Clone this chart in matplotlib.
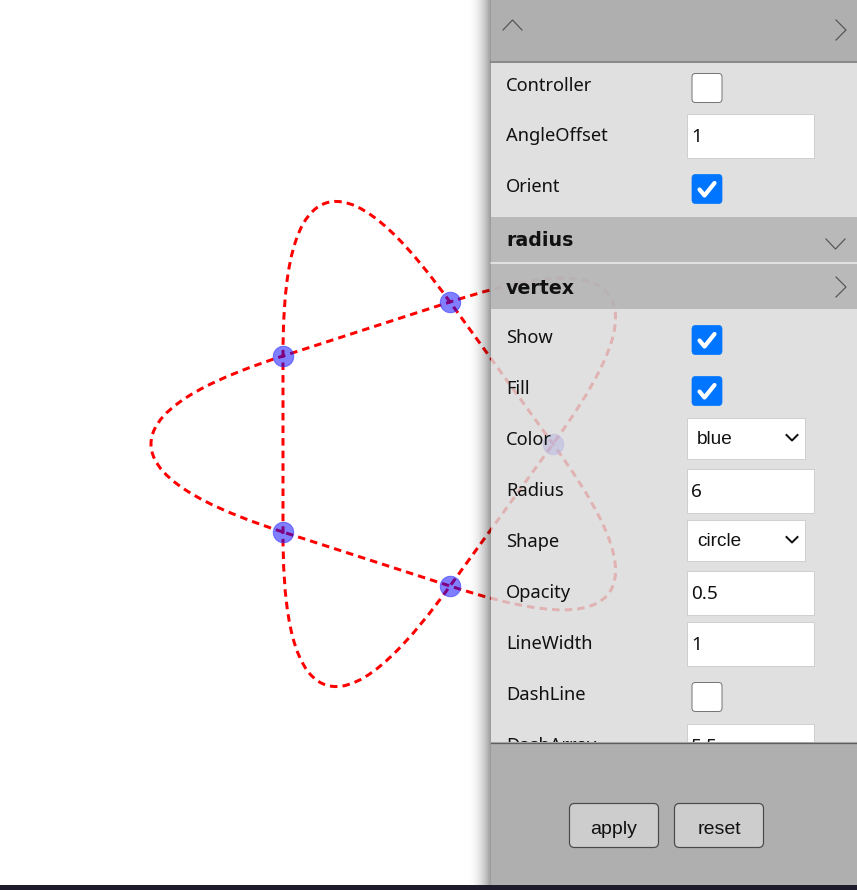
import matplotlib
matplotlib.use("Agg")
import matplotlib.pyplot as plt
from matplotlib.path import Path
from matplotlib.patches import PathPatch, Rectangle, FancyBboxPatch
import numpy as np

W, H = 857, 890

# curve anchors (pixels, y grows downwards)
crossing_x = [553, 450, 283, 283, 450]
crossing_y = [444, 302, 356, 532, 586]
tip_x = [609, 609, 326, 151, 326]
tip_y = [593, 295, 203, 444, 685]

# gui panel content
top_labels = ["Controller", "AngleOffset", "Orient"]
top_rows_y = [86, 136, 187]
section_titles = ["radius", "vertex"]
section_y = [240, 287]
vertex_labels = ["Show", "Fill", "Color", "Radius", "Shape", "Opacity", "LineWidth", "DashLine", "DashArray"]
vertex_rows_y = [338, 389, 440, 491, 542, 593, 644, 695, 746]
checkboxes = {"Controller": False, "Orient": True, "Show": True, "Fill": True, "DashLine": False}
text_inputs = {"AngleOffset": "1", "Radius": "6", "Opacity": "0.5", "LineWidth": "1", "DashArray": "5,5"}
selects = {"Color": "blue", "Shape": "circle"}
buttons = ["apply", "reset"]

fig = plt.figure(figsize=(W / 100, H / 100), dpi=100)
ax = fig.add_axes([0, 0, 1, 1])
ax.set_xlim(0, W)
ax.set_ylim(H, 0)
ax.axis("off")

PX = 0.72  # px -> pt at 100 dpi


def unit(v):
    return v / np.hypot(*v)


# ---- the star curve: pentagon sides + rounded lobes
C = np.column_stack([crossing_x, crossing_y]).astype(float)
T = np.column_stack([tip_x, tip_y]).astype(float)
h_side, h_tip = 60, 40
verts = [C[3]]
codes = [Path.MOVETO]
i = 3
for k in range(5):
    a, b = i % 5, (i - 1) % 5
    d_in = unit(C[a] - C[(a + 1) % 5])
    d_out = unit(C[(b - 1) % 5] - C[b])
    u = unit(C[b] - C[a])
    verts += [C[a] + h_side * d_in, T[a] - h_tip * u, T[a],
              T[a] + h_tip * u, C[b] - h_side * d_out, C[b]]
    codes += [Path.CURVE4] * 6
    verts.append(C[(b - 1) % 5])
    codes.append(Path.LINETO)
    i -= 2

ax.add_patch(PathPatch(Path(verts, codes), fill=False, edgecolor="#ff0000",
                       lw=3 * PX, linestyle=(0, (2.5, 1.7)), zorder=1))
ax.scatter(crossing_x, crossing_y, s=(20.5 * PX) ** 2, facecolor=(0, 0, 1, 0.5),
           edgecolor=(0.2, 0.2, 1, 0.6), linewidth=1 * PX, zorder=2)

# ---- panel
px0 = 491
# drop shadow
shade = np.zeros((1, 64, 4))
shade[..., 3] = np.linspace(0, 1, 64) ** 2.2 * 0.4
ax.imshow(shade, extent=(466, px0, H - 5, 0), aspect="auto", zorder=3, interpolation="bilinear")

alpha = 0.82
def veil(c):
    return (c - (1 - alpha) * 255) / alpha / 255

body = veil(225)
band = veil(191)
ax.add_patch(Rectangle((px0, 61), W - px0, 742 - 61, facecolor=(body, body, body), alpha=alpha,
                       lw=0, zorder=3))
ax.add_patch(Rectangle((px0, 217), W - px0, 45, facecolor=(band, band, band), alpha=alpha, lw=0, zorder=3))
ax.add_patch(Rectangle((px0, 264), W - px0, 45, facecolor=(band, band, band), alpha=alpha, lw=0, zorder=3))
ax.add_patch(Rectangle((px0, 0), W - px0, 61, facecolor="#afafaf", lw=0, zorder=3))
ax.plot([px0, W], [61.5, 61.5], color="#6f6f6f", lw=1.5 * PX, zorder=4)

lab_font = dict(family="Noto Sans", fontsize=18.3 * PX, color="#111111", va="center", zorder=5)
val_font = dict(family="Noto Sans", fontsize=19 * PX, color="#111111", va="center", zorder=5)

def checkbox(y, checked):
    x0, y0 = 692, y - 14.5
    if checked:
        ax.add_patch(FancyBboxPatch((x0, y0), 30, 29, boxstyle="round,pad=0,rounding_size=3.5",
                                    facecolor="#0075ff", edgecolor="#0075ff", lw=0.5, zorder=5))
        ax.plot([x0 + 7.5, x0 + 12.5, x0 + 22.5], [y0 + 15, y0 + 21, y0 + 8.5], color="white",
                lw=4.2 * PX, solid_capstyle="round", solid_joinstyle="round", zorder=6)
    else:
        ax.add_patch(FancyBboxPatch((x0, y0), 30, 29, boxstyle="round,pad=0,rounding_size=3.5",
                                    facecolor="white", edgecolor="#767676", lw=1 * PX, zorder=5))

def textbox(y, value):
    ax.add_patch(Rectangle((687, y - 22), 127, 44, facecolor="white", edgecolor="#cfcfcf",
                           lw=1 * PX, zorder=5))
    ax.text(691, y + 1, value, **val_font)

def selectbox(y, value):
    ax.add_patch(Rectangle((687, y - 20.5), 118, 41, facecolor="white", edgecolor="#cfcfcf",
                           lw=1 * PX, zorder=5))
    ax.text(697, y + 1.5, value, family="Liberation Sans", fontsize=19 * PX, color="#111111",
            va="center", zorder=6)
    ax.plot([786.5, 792, 797.5], [y - 3, y + 2.5, y - 3], color="#111111", lw=2 * PX, zorder=6)

for lab, y in zip(top_labels + vertex_labels, top_rows_y + vertex_rows_y):
    ax.text(506, y, lab, **lab_font)
    if lab in checkboxes:
        checkbox(y + 2, checkboxes[lab])
    elif lab in text_inputs:
        textbox(y, text_inputs[lab])
    elif lab in selects:
        selectbox(y - 2, selects[lab])

for title, y in zip(section_titles, section_y):
    ax.text(506, y + 1, title, family="DejaVu Sans", fontsize=19 * PX, fontweight="bold",
            color="#111111", va="center", zorder=5)
ax.plot([px0, W], [263, 263], color="#e2e2e2", lw=1.5 * PX, zorder=4)

# chevrons
chev = dict(color="#555555", lw=1.2 * PX, zorder=5)
ax.plot([503, 512.5, 522], [30, 20, 30], **chev)
ax.plot([836, 846, 836], [20, 30, 40], **chev)
ax.plot([826, 835.5, 845], [239, 249, 239], **chev)
ax.plot([836, 846, 836], [277, 287, 297], **chev)

# bottom button area (covers the cut-off DashArray row)
ax.add_patch(Rectangle((px0, 742), W - px0, 885 - 742, facecolor="#afafaf", lw=0, zorder=7))
ax.plot([px0, W], [742.5, 742.5], color="#5f5f5f", lw=1.3 * PX, zorder=8)
for name, x0 in zip(buttons, [569.5, 674.5]):
    ax.add_patch(FancyBboxPatch((x0, 803.5), 89, 44, boxstyle="round,pad=0,rounding_size=5",
                                facecolor="#cdcdcd", edgecolor="#4a4a4a", lw=1.2 * PX, zorder=8))
    ax.text(x0 + 44.5, 830, name, family="Liberation Sans", fontsize=19.5 * PX, color="#111111",
            ha="center", va="center", zorder=9)

# taskbar strip at the very bottom
ax.add_patch(Rectangle((0, 885), W, 5, facecolor="#1e1b2c", lw=0, zorder=10))

fig.savefig("out.png", dpi=100)
plt.close(fig)
